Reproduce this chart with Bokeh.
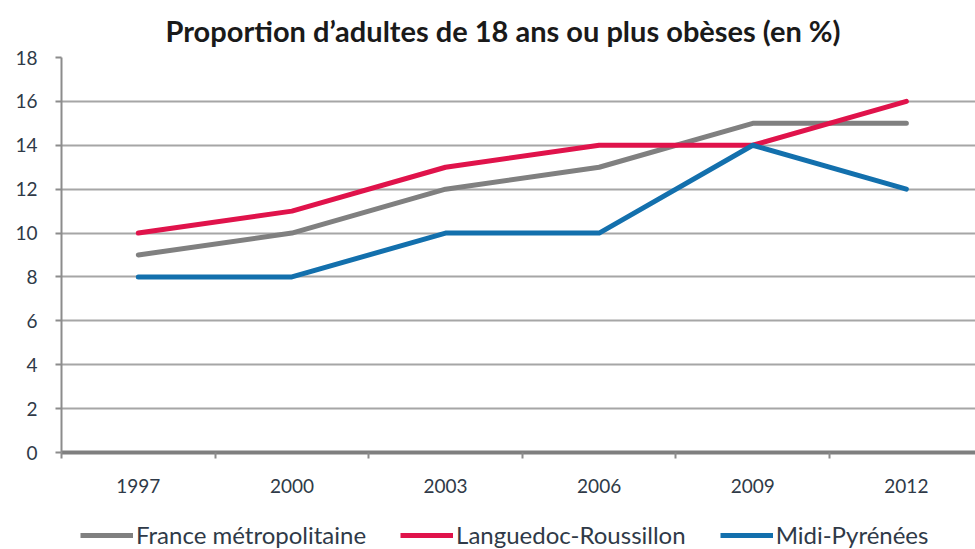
from bokeh.plotting import figure
from bokeh.layouts import column
from bokeh.models import Range1d, FixedTicker, Legend, LegendItem
from bokeh.embed import file_html
from bokeh.resources import INLINE

years = ["1997", "2000", "2003", "2006", "2009", "2012"]
france = [9, 10, 12, 13, 15, 15]
languedoc = [10, 11, 13, 14, 14, 16]
midi = [8, 8, 10, 10, 14, 12]
y_ticks = [0, 2, 4, 6, 8, 10, 12, 14, 16, 18]
names = ["France métropolitaine", "Languedoc-Roussillon", "Midi-Pyrénées"]
colors = ["#808080", "#E0134B", "#1370AD"]

FONT = "Lato"
LABEL_COLOR = "#2f3a48"
xs = list(range(len(years)))
series = [france, languedoc, midi]

p = figure(width=975, height=510, output_backend="svg", toolbar_location=None,
           x_range=Range1d(-0.5, 5.45), y_range=Range1d(0, 18),
           min_border_left=61, min_border_right=0, min_border_top=57, min_border_bottom=58)
p.outline_line_color = None
p.background_fill_color = "white"

p.title.text = "Proportion d\u2019adultes de 18 ans ou plus obèses (en %)"
p.title.align = "left"
p.title.offset = 104
p.title.text_font = FONT
p.title.text_font_size = "29px"
p.title.text_font_style = "bold"
p.title.text_color = "#1a1a1a"
p.title.standoff = 20

for vals, c in zip(series, colors):
    p.line(xs, vals, line_color=c, line_width=5, line_cap="round", line_join="round")

# axes
p.xaxis.ticker = FixedTicker(ticks=xs, minor_ticks=[i - 0.5 for i in range(len(years) + 1)])
p.xaxis.major_label_overrides = {i: y for i, y in enumerate(years)}
p.xaxis.major_tick_out = 0
p.xaxis.major_tick_in = 0
p.xaxis.minor_tick_out = 6
p.xaxis.minor_tick_in = 0
p.xaxis.minor_tick_line_color = "#8c8c8c"
p.xaxis.minor_tick_line_width = 2
p.xaxis.axis_line_color = "#7f7f7f"
p.xaxis.axis_line_width = 4
p.xaxis.major_label_standoff = 20
p.xaxis.major_label_text_font = FONT
p.xaxis.major_label_text_font_size = "19px"
p.xaxis.major_label_text_color = LABEL_COLOR

p.yaxis.ticker = FixedTicker(ticks=y_ticks)
p.yaxis.major_tick_out = 6
p.yaxis.major_tick_in = 0
p.yaxis.minor_tick_line_color = None
p.yaxis.major_tick_line_color = "#8c8c8c"
p.yaxis.major_tick_line_width = 2
p.yaxis.axis_line_color = "#8c8c8c"
p.yaxis.axis_line_width = 2
p.yaxis.major_label_standoff = 18
p.yaxis.major_label_text_font = FONT
p.yaxis.major_label_text_font_size = "19px"
p.yaxis.major_label_text_color = LABEL_COLOR

p.xgrid.grid_line_color = None
p.ygrid.grid_line_color = "#a6a6a6"
p.ygrid.grid_line_width = 2

# legend strip below the chart (its lines sit outside the visible range)
lg = figure(width=975, height=39, output_backend="svg", toolbar_location=None,
            x_range=Range1d(-100, -99), y_range=Range1d(-100, -99),
            min_border_left=0, min_border_right=0, min_border_top=0, min_border_bottom=0,
            x_axis_type=None, y_axis_type=None)
lg.outline_line_color = None
lg.xgrid.grid_line_color = None
lg.ygrid.grid_line_color = None
items = []
for name, vals, c in zip(names, series, colors):
    r = lg.line(xs, vals, line_color=c, line_width=5)
    items.append(LegendItem(label=name, renderers=[r]))

legend = Legend(items=items, orientation="horizontal", location=(19, 0))
legend.label_text_font = FONT
legend.label_text_font_size = "24px"
legend.label_text_color = LABEL_COLOR
legend.glyph_width = 53
legend.label_standoff = 3
legend.spacing = 34
legend.border_line_color = None
legend.background_fill_alpha = 0
legend.margin = 0
legend.padding = 2
lg.add_layout(legend, "center")

open("out.html", "w").write(file_html(column(p, lg, spacing=0), INLINE))
